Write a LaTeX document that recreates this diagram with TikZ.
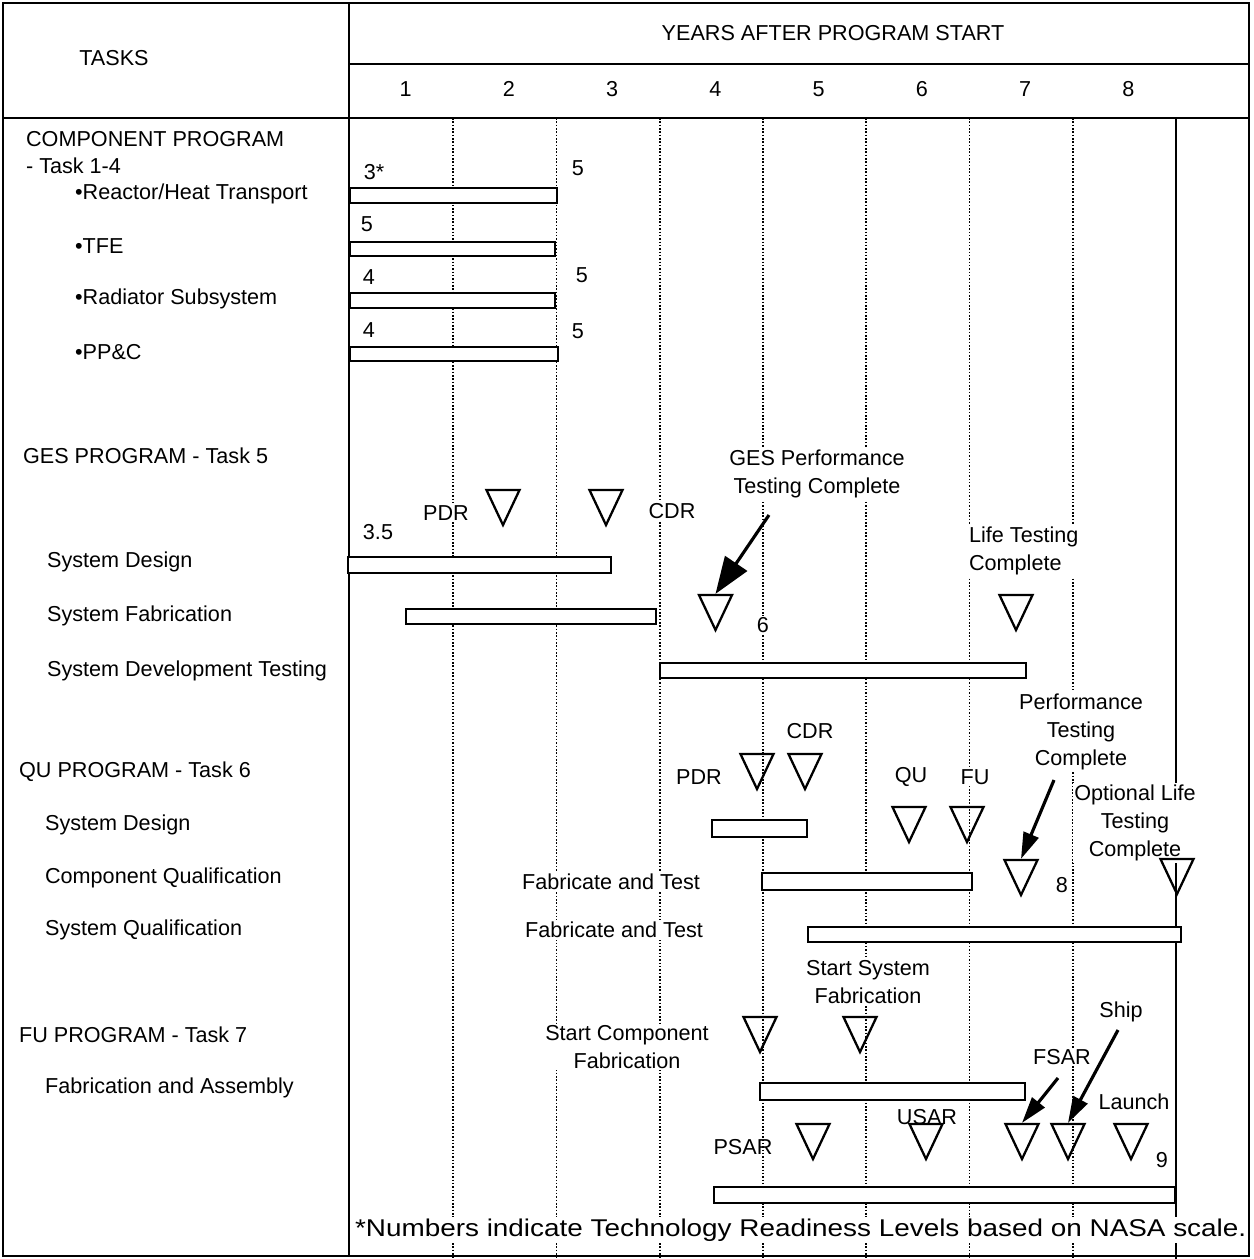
\documentclass[tikz,border=0pt]{standalone}
\usepackage{fontspec}
\usepackage{graphicx}
\setmainfont{Liberation Sans}
\usetikzlibrary{shapes.geometric,arrows.meta}
\newcommand{\chartsize}{\fontsize{12.3}{15.8}\selectfont}
\newcommand{\notesize}{\fontsize{13.8}{16}\selectfont}
\tikzset{
  frame/.style={line width=1.6pt},
  yrline/.style={densely dotted, line width=0.9pt},
  bar/.style={draw, fill=white, line width=1.4pt},
  lbl/.style={font=\chartsize, inner sep=1pt},
  mask/.style={lbl, fill=white},
  ms/.style={draw, isosceles triangle, shape border rotate=-90, isosceles triangle stretches, minimum width=0.66cm, minimum height=0.70cm, inner sep=0pt, line width=1.3pt, anchor=apex},
  call/.style={-{Triangle[length=15pt,width=9pt]}, line width=1.8pt},
  bigcall/.style={call, -{Triangle[length=21pt,width=15pt]}},
}
\begin{document}
\begin{tikzpicture}[x=0.02cm, y=-0.02cm]
\useasboundingbox (0,0) rectangle (1254,1259);

% Frame
\draw[frame] (3,3) rectangle (1249,1256);
\draw[frame] (349,3) -- (349,1256);
\draw[line width=1.2pt] (349,64) -- (1249,64);
\draw[frame] (3,118) -- (1249,118);

% Header
\node[lbl] (tasks) at (114,58) {TASKS};
\node[lbl] (years) at (833,33) {YEARS AFTER PROGRAM START};
\foreach \k in {1,...,8}
  \node[lbl] (yr\k) at ({350+103.25*(\k-1)+55.6},89) {\k};

% Year lines
\foreach \k in {1,...,7}
  \draw[yrline] ({350+103.25*\k},118) -- ({350+103.25*\k},1259);
\draw[line width=0.9pt] (1176,118) -- (1176,1259);

% Tasks
\node[lbl, anchor=west] (comp) at (24,139) {COMPONENT PROGRAM};
\node[lbl, anchor=west] (comptask) at (24,166) {- Task 1-4};
\node[lbl, anchor=west] (reactor) at (73,194) {•Reactor/Heat Transport};
\node[lbl, anchor=west] (tfe) at (73,246) {•TFE};
\node[lbl, anchor=west] (radiator) at (73,299) {•Radiator Subsystem};
\node[lbl, anchor=west] (ppc) at (73,352) {•PP\&C};
\node[lbl, anchor=west] (ges) at (21,456) {GES PROGRAM - Task 5};
\node[lbl, anchor=west] (gdesign) at (45,562) {System Design};
\node[lbl, anchor=west] (gfab) at (45,616) {System Fabrication};
\node[lbl, anchor=west] (gdev) at (45,671) {System Development Testing};
\node[lbl, anchor=west] (qu) at (17,772) {QU PROGRAM - Task 6};
\node[lbl, anchor=west] (qdesign) at (43,825) {System Design};
\node[lbl, anchor=west] (qcomp) at (43,878) {Component Qualification};
\node[lbl, anchor=west] (qsys) at (43,930) {System Qualification};
\node[lbl, anchor=west] (fu) at (17,1035) {FU PROGRAM - Task 7};
\node[lbl, anchor=west] (ffab) at (43,1088) {Fabrication and Assembly};

% Component program
\draw[bar] (350,188) rectangle (557,203);
\draw[bar] (350,242) rectangle (555,256);
\draw[bar] (350,293) rectangle (555,308);
\draw[bar] (350,347) rectangle (558,361);
\node[lbl] (c1a) at (374,172) {3*};
\node[lbl] (c1b) at (578,168) {5};
\node[lbl] (c2a) at (367,224) {5};
\node[lbl] (c3a) at (369,277) {4};
\node[lbl] (c3b) at (582,275) {5};
\node[lbl] (c4a) at (369,330) {4};
\node[lbl] (c4b) at (578,331) {5};

% GES program
\draw[bar] (348,557) rectangle (611,573);
\draw[bar] (406,609) rectangle (656,624);
\draw[bar] (660,663) rectangle (1026,678);
\node[mask] (gpdrl) at (446,513) {PDR};
\node[mask] (gcdrl) at (672,511) {CDR};
\node[lbl] (g35) at (378,532) {3.5};
\node[mask, align=center] (gperfl) at (817,474) {GES Performance\\Testing Complete};
\node[mask, align=left, anchor=west] (glifel) at (967,551) {Life Testing\\Complete};
\node[mask] (g6) at (763,625) {6};
\node[ms] (gpdr) at (503,528) {};
\node[ms] (gcdr) at (606,528) {};
\node[ms] (gperf) at (715.5,633) {};
\node[ms] (glife) at (1016,633) {};
\coordinate (gperft) at (769,515);
\draw[bigcall] (gperft) -- (gperf.lower side);

% QU program
\draw[bar] (712,820) rectangle (807,837);
\draw[bar] (762,873) rectangle (972,890);
\draw[bar] (808,927) rectangle (1181,942);
\node[lbl] (qcdrl) at (810,731) {CDR};
\node[lbl] (qpdrl) at (699,777) {PDR};
\node[lbl] (qqul) at (911,777) {QU};
\node[mask] (qful) at (975,777) {FU};
\node[mask, align=center] (qperfl) at (1081,732) {Performance\\Testing\\Complete};
\node[mask, align=center] (qoptl) at (1135,823) {Optional Life\\Testing\\Complete};
\node[lbl] (q8) at (1062,885) {8};
\node[mask] (qfab1) at (611,882) {Fabricate and Test};
\node[mask] (qfab2) at (614,930) {Fabricate and Test};
\node[ms] (qpdr) at (757,792) {};
\node[ms] (qcdr) at (805,792) {};
\node[ms] (qqu) at (909,845) {};
\node[ms] (qfu) at (967,845) {};
\node[ms] (qperf) at (1021,898) {};
\node[ms] (qopt) at (1177,897) {};
\coordinate (qperft) at (1054,780);
\draw[call] (qperft) -- (qperf.lower side);

% FU program
\draw[bar] (760,1083) rectangle (1025,1100);
\draw[bar] (714,1187) rectangle (1175,1203);
\node[mask, align=center] (fssfl) at (868,982) {Start System\\Fabrication};
\node[mask, align=center] (fscfl) at (627,1047) {Start Component\\Fabrication};
\node[lbl] (fshipl) at (1121,1012) {Ship};
\node[mask] (ffsarl) at (1062,1057) {FSAR};
\node[lbl] (flaunchl) at (1134,1102) {Launch};
\node[lbl] (fusarl) at (927,1117) {USAR};
\node[lbl] (fpsarl) at (743,1147) {PSAR};
\node[lbl] (f9) at (1162,1160) {9};
\node[ms] (fscf) at (760,1055) {};
\node[ms] (fssf) at (860,1055) {};
\node[ms] (fpsar) at (813,1162) {};
\node[ms] (fusar) at (926,1162) {};
\node[ms] (ffsar) at (1022,1162) {};
\node[ms] (fship) at (1068,1162) {};
\node[ms] (flaunch) at (1131,1162) {};
\coordinate (ffsart) at (1058,1078);
\coordinate (fshipt) at (1118,1030);
\draw[call] (ffsart) -- (ffsar.lower side);
\draw[call] (fshipt) -- (fship.lower side);

% Note
\node[fill=white, inner sep=1pt, anchor=base west] (note) at (353,1236)
  {\scalebox{1.15}[1]{\notesize *Numbers indicate Technology Readiness Levels based on NASA scale.}};
\end{tikzpicture}
\end{document}
